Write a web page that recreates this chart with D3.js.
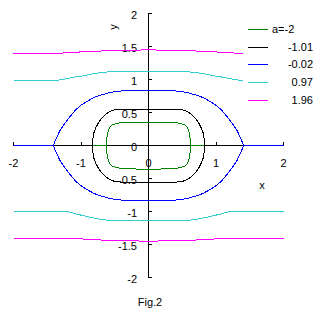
<!DOCTYPE html>
<html>
<head>
<meta charset="utf-8">
<script src="https://cdnjs.cloudflare.com/ajax/libs/d3/7.8.5/d3.min.js"></script>
<style>
  body { margin: 0; background: #fff; }
  text { font-family: "Liberation Sans", Arial, sans-serif; font-size: 11px; fill: #000; }
</style>
</head>
<body>
<svg id="chart" width="325" height="321"></svg>
<script>
// tick labels
var xTicks = [-2, -1, 0, 1, 2];
var yTicks = [-2, -1.5, -1, -0.5, 0, 0.5, 1, 1.5, 2];

// legend
var seriesNames = ["a=-2", "-1.01", "-0.02", "0.97", "1.96"];
var seriesColors = ["#008000", "#000000", "#0000ff", "#33cccc", "#ff00ff"];

// a = -2
var greenX    = [-2, -0.62, -0.615, -0.6, -0.58, -0.55, -0.5, -0.42, -0.3, 0, 0.3, 0.42, 0.5, 0.55, 0.58, 0.6, 0.615, 0.62, 2];
var greenUp   = [0, 0, 0.12, 0.21, 0.27, 0.305, 0.325, 0.345, 0.35, 0.352, 0.35, 0.345, 0.325, 0.305, 0.27, 0.21, 0.12, 0, 0];
var greenDown = [0, 0, -0.12, -0.21, -0.27, -0.305, -0.325, -0.345, -0.355, -0.358, -0.355, -0.345, -0.325, -0.305, -0.27, -0.21, -0.12, 0, 0];

// a = -1.01
var blackX    = [-2, -0.83, -0.825, -0.81, -0.78, -0.75, -0.7, -0.65, -0.6, -0.55, -0.5, -0.4, 0, 0.4, 0.5, 0.55, 0.6, 0.65, 0.7, 0.75, 0.78, 0.81, 0.825, 0.83, 2];
var blackUp   = [0, 0, 0.1, 0.19, 0.27, 0.33, 0.405, 0.46, 0.5, 0.525, 0.54, 0.55, 0.553, 0.55, 0.54, 0.525, 0.5, 0.46, 0.405, 0.33, 0.27, 0.19, 0.1, 0, 0];
var blackDown = [0, 0, -0.1, -0.19, -0.27, -0.33, -0.405, -0.46, -0.5, -0.525, -0.545, -0.555, -0.558, -0.555, -0.545, -0.525, -0.5, -0.46, -0.405, -0.33, -0.27, -0.19, -0.1, 0, 0];

// a = -0.02
var blueX    = [-2, -1.41, -1.37, -1.31, -1.25, -1.17, -1.08, -1.0, -0.9, -0.8, -0.7, -0.6, -0.5, -0.4, 0, 0.4, 0.5, 0.6, 0.7, 0.8, 0.9, 1.0, 1.08, 1.17, 1.25, 1.31, 1.37, 1.41, 2];
var blueUp   = [0, 0, 0.1, 0.23, 0.32, 0.43, 0.54, 0.61, 0.675, 0.73, 0.765, 0.795, 0.815, 0.826, 0.83, 0.826, 0.815, 0.795, 0.765, 0.73, 0.675, 0.61, 0.54, 0.43, 0.32, 0.23, 0.1, 0, 0];
var blueDown = [0, 0, -0.1, -0.23, -0.32, -0.43, -0.54, -0.61, -0.675, -0.73, -0.765, -0.795, -0.815, -0.826, -0.83, -0.826, -0.815, -0.795, -0.765, -0.73, -0.675, -0.61, -0.54, -0.43, -0.32, -0.23, -0.1, 0, 0];

// a = 0.97
var cyanX    = [-2, -1.4, -1.3, -1.2, -1.1, -1.0, -0.9, -0.8, -0.7, -0.55, 0, 0.55, 0.7, 0.8, 0.9, 1.0, 1.1, 1.2, 1.3, 1.4, 2];
var cyanUp   = [0.985, 0.985, 0.995, 1.015, 1.035, 1.05, 1.07, 1.09, 1.105, 1.12, 1.122, 1.12, 1.105, 1.09, 1.07, 1.05, 1.035, 1.015, 0.995, 0.985, 0.985];
var cyanDown = [-0.997, -0.997, -0.997, -1.0, -1.03, -1.055, -1.08, -1.1, -1.12, -1.138, -1.14, -1.138, -1.12, -1.1, -1.08, -1.055, -1.03, -1.0, -0.997, -0.997, -0.997];

// a = 1.96
var magX    = [-2, -1.3, -1.2, -1.0, -0.7, -0.45, 0, 0.45, 0.7, 1.0, 1.2, 1.3, 2];
var magUp   = [1.398, 1.4, 1.405, 1.418, 1.432, 1.443, 1.448, 1.443, 1.432, 1.418, 1.405, 1.4, 1.398];
var magDown = [-1.405, -1.405, -1.406, -1.415, -1.432, -1.445, -1.448, -1.445, -1.432, -1.415, -1.406, -1.405, -1.405];

var curves = [
    [greenX, greenUp, greenDown],
    [blackX, blackUp, blackDown],
    [blueX, blueUp, blueDown],
    [cyanX, cyanUp, cyanDown],
    [magX, magUp, magDown]
];

var svg = d3.select("#chart");
svg.append("rect").attr("width", 325).attr("height", 321).attr("fill", "#fff");

// integer ranges; d3 axes add their own half pixel
var x = d3.scaleLinear().domain([-2, 2]).range([13, 283]);
var y = d3.scaleLinear().domain([-2, 2]).range([277, 13]);

// y axis through x=0, ticks point right, labels on the left
var yAxis = svg.append("g")
    .attr("transform", "translate(" + x(0) + ",0)")
    .call(d3.axisLeft(y).tickValues(yTicks).tickFormat(function(d) { return String(d); })
        .tickSize(-4).tickPadding(11));

// x axis through y=0, ticks point up, labels below
var xAxis = svg.append("g")
    .attr("transform", "translate(0," + y(0) + ")")
    .call(d3.axisBottom(x).tickValues(xTicks).tickFormat(function(d) { return String(d); })
        .tickSize(-3).tickPadding(14));

svg.selectAll(".domain, .tick line")
    .attr("stroke", "#000")
    .attr("shape-rendering", "crispEdges");
svg.selectAll(".tick text")
    .attr("fill", "#000")
    .style("font-family", "\"Liberation Sans\", Arial, sans-serif")
    .style("font-size", "11px");
yAxis.selectAll(".tick text").attr("y", 1.5);

svg.append("text")
    .attr("transform", "translate(113,27) rotate(-90)")
    .attr("text-anchor", "middle")
    .attr("dy", "0.35em")
    .text("y");

svg.append("text")
    .attr("x", 262)
    .attr("y", 185)
    .attr("text-anchor", "middle")
    .attr("dy", "0.35em")
    .text("x");

svg.append("text")
    .attr("x", 150)
    .attr("y", 302)
    .attr("text-anchor", "middle")
    .attr("dy", "0.35em")
    .text("Fig.2");

// curves: upper and lower halves of each level
var line = d3.line()
    .x(function(d) { return x(d[0]); })
    .y(function(d) { return y(d[1]); });

var plot = svg.append("g").attr("transform", "translate(0.5,0.5)");

curves.forEach(function(c, i) {
    [c[1], c[2]].forEach(function(ys) {
        var pts = c[0].map(function(v, k) { return [v, ys[k]]; });
        plot.append("path")
            .datum(pts)
            .attr("d", line)
            .attr("fill", "none")
            .attr("stroke", seriesColors[i])
            .attr("stroke-width", 1)
            .attr("shape-rendering", "crispEdges");
    });
});

// legend (white box sits over the plot)
var legend = svg.append("g");
legend.append("rect")
    .attr("x", 243).attr("y", 18)
    .attr("width", 82).attr("height", 92)
    .attr("fill", "#fff");

var items = legend.selectAll(".item")
    .data(seriesNames)
    .enter().append("g")
    .attr("class", "item")
    .attr("transform", function(d, i) { return "translate(0," + (29.5 + Math.round(i * 17.65)) + ")"; });

items.append("line")
    .attr("x1", 248).attr("x2", 268)
    .attr("y1", 0).attr("y2", 0)
    .attr("stroke", function(d, i) { return seriesColors[i]; })
    .attr("shape-rendering", "crispEdges");

items.append("text")
    .attr("x", function(d, i) { return i === 0 ? 272 : 313; })
    .attr("text-anchor", function(d, i) { return i === 0 ? "start" : "end"; })
    .attr("dy", "0.35em")
    .text(function(d) { return d; });
</script>
</body>
</html>
